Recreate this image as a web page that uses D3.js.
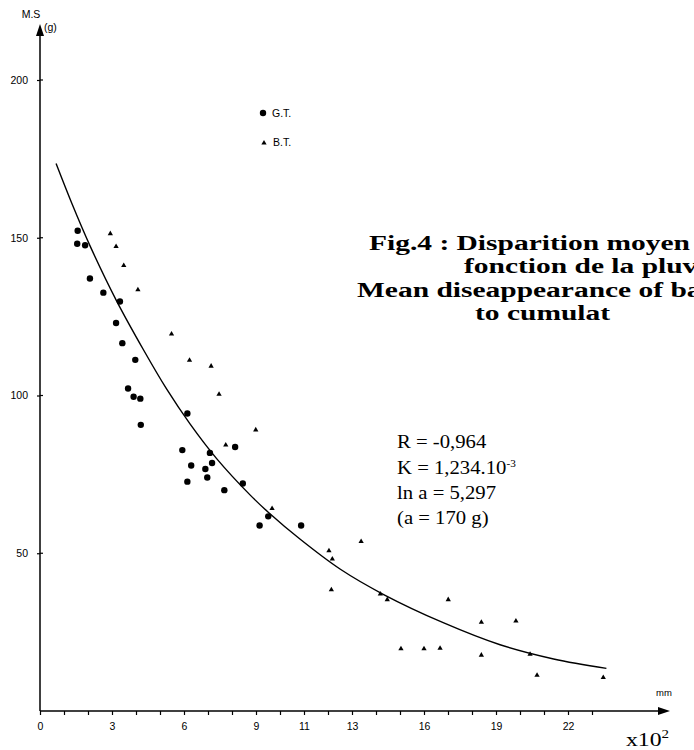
<!DOCTYPE html>
<html>
<head>
<meta charset="utf-8">
<script src="https://cdn.jsdelivr.net/npm/d3@7"></script>
<style>
  html, body { margin: 0; padding: 0; background: #fff; }
  svg { display: block; }
</style>
</head>
<body>
<svg id="chart" width="694" height="750"></svg>
<script>
// ---- data (x in 10^2 mm, y in g) ----
const gtX = [1.57,1.55,1.88,2.08,2.64,3.33,3.17,3.43,3.97,3.67,3.90,4.18,4.20,6.14,5.93,8.13,7.08,6.30,6.89,7.17,6.14,6.97,8.45,7.68,9.51,9.15,10.88];
const gtY = [152.2,148.1,147.6,137.1,132.6,129.8,123.0,116.6,111.3,102.2,99.6,99.0,90.7,94.3,82.7,83.7,81.8,77.8,76.7,78.6,72.7,74.0,72.1,70.0,61.7,58.8,58.8];

const btX = [2.93,3.17,3.49,4.08,5.48,6.23,7.13,7.46,8.99,7.74,9.67,12.04,12.18,13.38,12.14,14.18,14.47,17.01,18.39,19.83,15.04,16.0,16.67,18.39,20.42,20.71,23.47];
const btY = [151.3,147.2,141.2,133.5,119.5,111.2,109.3,100.4,89.1,84.3,64.2,50.8,48.2,53.7,38.4,37.1,35.3,35.3,28.1,28.5,19.7,19.7,19.9,17.7,18.0,11.3,10.6];

const curveX = [0.67,1.32,2.08,3.19,4.31,5.28,6.25,7.36,8.75,9.51,10.83,12.5,14.3,16.8,19.17,21.4,23.6];
const curveY = [173.5,161,147.5,130,114.5,102,91,80,68.5,63,54.5,45,37,28,21,16.5,13.5];

const xTickValues = [0,1,2,3,4,5,6,7,8,9,10,11,12,13,14,15,16,17,18,19,20,21,22,23];
const xTickLabels = [0,3,6,9,11,13,16,19,22];
const yTickValues = [50,100,150,200];

const titleLines = ["Fig.4 : Disparition moyen","fonction de la pluv","Mean diseappearance of ba","to cumulat"];
const statLines = ["R = -0,964","K = 1,234.10","ln a = 5,297","(a = 170 g)"];

// ---- drawing ----
const svg = d3.select("#chart");
const x = d3.scaleLinear().domain([0, 26.25]).range([40, 670]);
const y = d3.scaleLinear().domain([0, 200]).range([711, 80]);

const sans = "'Liberation Sans', Arial, sans-serif";
const serif = "'Liberation Serif', 'Times New Roman', serif";

// x axis
const xAxis = d3.axisBottom(x).tickValues(xTickValues).tickSize(4).tickPadding(8)
  .tickFormat(d => xTickLabels.includes(d) ? d : "");
const gx = svg.append("g").attr("transform", `translate(0,${y(0)})`).call(xAxis);
gx.select(".domain").remove();
gx.selectAll("line").attr("stroke", "#000").attr("stroke-width", 1.2);
gx.selectAll("text").attr("font-family", sans).attr("font-size", 10.5).attr("fill", "#000");
svg.append("line").attr("x1", x(0)).attr("x2", x(26.25) - 6).attr("y1", y(0)).attr("y2", y(0))
  .attr("stroke", "#000").attr("stroke-width", 1.5);
svg.append("path")
  .attr("d", `M${x(26.25)},${y(0)} L${x(26.25)-12},${y(0)-4} L${x(26.25)-12},${y(0)+4} Z`)
  .attr("fill", "#000");

// y axis
const yAxis = d3.axisLeft(y).tickValues(yTickValues).tickSize(3).tickPadding(9);
const gy = svg.append("g").attr("transform", `translate(${x(0)},0)`).call(yAxis);
gy.select(".domain").remove();
gy.selectAll("line").attr("stroke", "#000").attr("stroke-width", 1.2);
gy.selectAll("text").attr("font-family", sans).attr("font-size", 10.5).attr("fill", "#000");
svg.append("g").selectAll("line").data(yTickValues).join("line")
  .attr("x1", x(0)).attr("x2", x(0) + 3).attr("y1", d => y(d)).attr("y2", d => y(d))
  .attr("stroke", "#000").attr("stroke-width", 1.2);
svg.append("line").attr("x1", x(0)).attr("x2", x(0)).attr("y1", y(0)).attr("y2", 34)
  .attr("stroke", "#000").attr("stroke-width", 1.5);
svg.append("path")
  .attr("d", `M${x(0)},24 L${x(0)-4},36 L${x(0)+4},36 Z`).attr("fill", "#000");

svg.append("text").attr("x", 31).attr("y", 18).attr("text-anchor", "middle")
  .attr("font-family", sans).attr("font-size", 10.5).text("M.S");
svg.append("text").attr("x", 44).attr("y", 31)
  .attr("font-family", sans).attr("font-size", 10.5).text("(g)");
svg.append("text").attr("x", 656).attr("y", 696)
  .attr("font-family", sans).attr("font-size", 9.5).text("mm");
const xl = svg.append("text").attr("transform", "translate(626,746) scale(1.25,1)")
  .attr("font-family", serif).attr("font-size", 19);
xl.append("tspan").text("x10");
xl.append("tspan").attr("dy", -8).attr("font-size", 12).text("2");

// fitted curve
const curveData = curveX.map((v, i) => [v, curveY[i]]);
svg.append("path").datum(curveData)
  .attr("d", d3.line().x(d => x(d[0])).y(d => y(d[1])).curve(d3.curveCatmullRom.alpha(0.5)))
  .attr("fill", "none").attr("stroke", "#000").attr("stroke-width", 1.4);

// G.T. points
svg.append("g").selectAll("circle").data(gtX.map((v, i) => [v, gtY[i]])).join("circle")
  .attr("cx", d => x(d[0])).attr("cy", d => y(d[1])).attr("r", 3.2).attr("fill", "#000");

// B.T. points
const tri = d3.symbol().type(d3.symbolTriangle).size(12);
svg.append("g").selectAll("path").data(btX.map((v, i) => [v, btY[i]])).join("path")
  .attr("transform", d => `translate(${x(d[0])},${y(d[1])})`).attr("d", tri).attr("fill", "#000");

// legend
svg.append("circle").attr("cx", 263).attr("cy", 113).attr("r", 3.2).attr("fill", "#000");
svg.append("text").attr("x", 272).attr("y", 117).attr("font-family", sans).attr("font-size", 10.5).text("G.T.");
svg.append("path").attr("transform", "translate(264,143)").attr("d", tri).attr("fill", "#000");
svg.append("text").attr("x", 273).attr("y", 146).attr("font-family", sans).attr("font-size", 10.5).text("B.T.");

// title (cut by the right edge, as in the figure)
const titlePos = [[369,250],[464,273],[357,297],[475,320]];
svg.append("g").selectAll("text").data(titleLines).join("text")
  .attr("transform", (d, i) => `translate(${titlePos[i][0]},${titlePos[i][1]}) scale(1.34,1)`)
  .attr("font-family", serif).attr("font-weight", "bold").attr("font-size", 22).attr("fill", "#000")
  .text(d => d);

// statistics
const statY = [448, 474, 499, 524];
statLines.forEach((s, i) => {
  const t = svg.append("text")
    .attr("transform", `translate(397,${statY[i]}) scale(1.12,1)`)
    .attr("font-family", serif).attr("font-size", 18.5).attr("fill", "#000");
  t.append("tspan").text(s);
  if (i === 1) t.append("tspan").attr("dy", -7).attr("font-size", 10).text("-3");
});
</script>
</body>
</html>
